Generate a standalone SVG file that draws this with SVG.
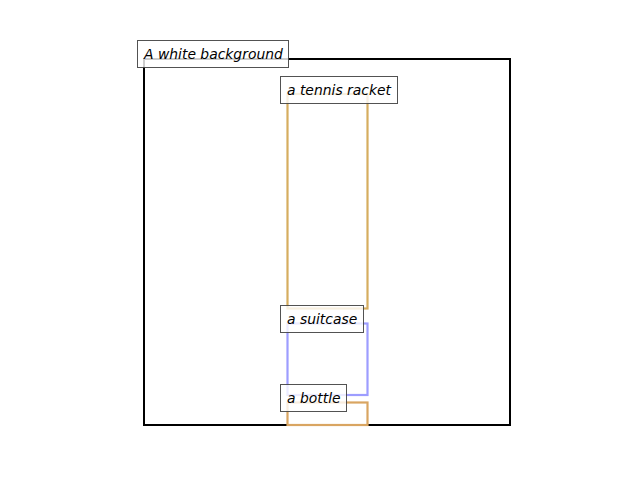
<svg xmlns="http://www.w3.org/2000/svg" width="640" height="480" viewBox="0 0 640 480">
<style>
.lbl rect{fill:#ffffff;fill-opacity:0.8;stroke:#3f3f3f;stroke-opacity:0.9;stroke-width:1}
.lbl text{font-family:"DejaVu Sans",sans-serif;font-style:oblique;font-size:13.9px;fill:#000}
.obj{fill:none;stroke-width:2.2}
</style>
<rect width="640" height="480" fill="#ffffff"/>
<g id="background">
<rect x="144" y="59" width="366" height="366" fill="none" stroke="#000" stroke-width="2"/>
</g>
<g id="tennis-racket">
<rect class="obj" x="287.5" y="94" width="80" height="214.5" stroke="#d6ad5f"/>
</g>
<g id="suitcase">
<rect class="obj" x="287.5" y="323.5" width="80" height="71.5" stroke="#9d9dff"/>
</g>
<g id="bottle">
<rect class="obj" x="287.5" y="402.5" width="80" height="22.5" stroke="#d9a561"/>
</g>
<g id="label-background" class="lbl">
<rect x="137.5" y="40.5" width="151" height="27"/>
<text x="144" y="59">A white background</text>
</g>
<g id="label-racket" class="lbl">
<rect x="280.5" y="76.5" width="117" height="27"/>
<text x="287" y="95">a tennis racket</text>
</g>
<g id="label-suitcase" class="lbl">
<rect x="280.5" y="305.5" width="83" height="27"/>
<text x="287" y="324">a suitcase</text>
</g>
<g id="label-bottle" class="lbl">
<rect x="280.5" y="384.5" width="66" height="27"/>
<text x="287" y="403">a bottle</text>
</g>
</svg>
